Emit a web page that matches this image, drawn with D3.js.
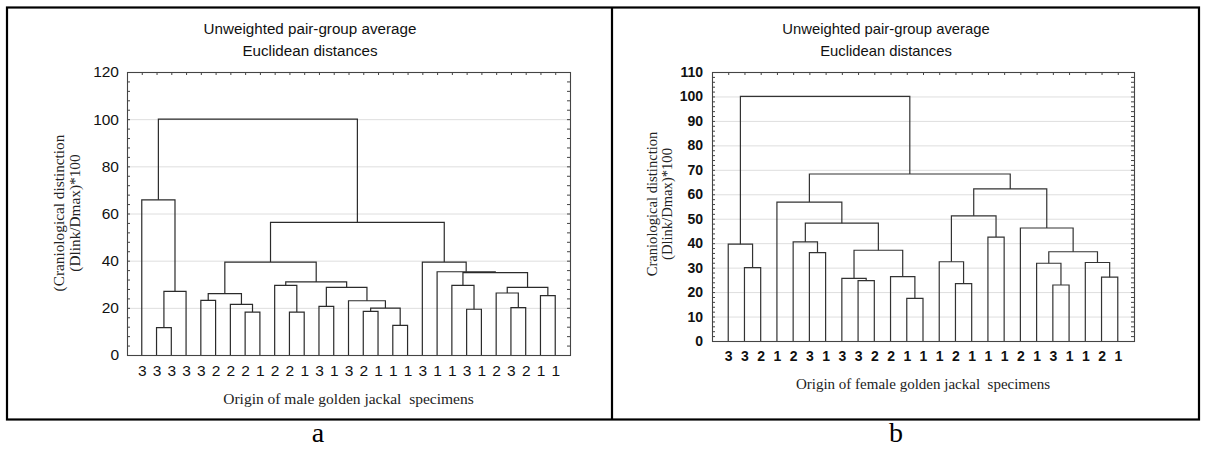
<!DOCTYPE html>
<html><head><meta charset="utf-8">
<script src="https://cdn.jsdelivr.net/npm/d3@7"></script>
<style>body{margin:0;background:#fff} svg{display:block} text{white-space:pre}</style>
</head><body>
<svg id="c" width="1208" height="450"></svg>
<script>
// ---------- data ----------
const maleLabels = ["3","3","3","3","3","2","2","2","1","2","2","1","3","1","3","2","1","1","1","3","1","1","3","1","2","3","2","1","1"];
// linkage: [childA, childB, height]; ids < n are leaves, id n+k is merge k
const maleMerges = [
 [1,2,11.6],[29,3,27.0],[0,30,65.8],[4,5,23.2],[7,8,18.2],[6,33,21.5],[32,34,26.0],
 [10,11,18.2],[9,36,29.5],[12,13,20.6],[15,16,18.5],[17,18,12.6],[39,40,19.9],[14,41,23.0],
 [38,42,28.7],[37,43,31.0],[35,44,39.4],[22,23,19.4],[21,46,29.5],[25,26,20.1],[24,48,26.3],
 [27,28,25.2],[49,50,28.7],[47,51,34.9],[20,52,35.3],[19,53,39.4],[45,54,56.2],[31,55,100]
];
const maleTicks = [0,20,40,60,80,100,120];

const femaleLabels = ["3","3","2","1","2","3","1","3","3","2","2","1","1","1","2","1","1","1","2","1","3","1","1","2","1"];
const femaleMerges = [
 [1,2,30.0],[0,25,39.6],[5,6,36.1],[4,27,40.5],[8,9,24.7],[7,29,25.6],[11,12,17.4],[10,31,26.3],
 [30,32,37.1],[28,33,48.2],[3,34,56.8],[14,15,23.5],[13,36,32.4],[16,17,42.5],[37,38,51.2],
 [20,21,22.9],[19,40,31.8],[23,24,26.1],[22,42,32.1],[41,43,36.5],[18,44,46.2],[39,45,62.2],
 [35,46,68.3],[26,47,100]
];
const femaleTicks = [0,10,20,30,40,50,60,70,80,90,100,110];

const chartTitle = ["Unweighted pair-group average","Euclidean distances"];
const maleYTitle = ["(Craniological distinction","(Dlink/Dmax)*100"];
const femaleYTitle = ["Craniological distinction","(Dlink/Dmax)*100"];
const maleXTitle = "Origin of male golden jackal  specimens";
const femaleXTitle = "Origin of female golden jackal  specimens";
const panelLetters = ["a","b"];

// ---------- drawing ----------
const svg = d3.select("#c");
const SANS = "'Liberation Sans', Arial, sans-serif";
const SERIF = "'Liberation Serif', 'Times New Roman', serif";

// outer frame
const frame = svg.append("g").attr("stroke","#000").attr("stroke-width",2.2).attr("fill","none");
frame.append("rect").attr("x",7).attr("y",7.5).attr("width",1192).attr("height",412);
frame.append("line").attr("x1",612).attr("x2",612).attr("y1",7.5).attr("y2",419.5);

function drawPanel(o){
  const g = svg.append("g");
  const n = o.labels.length;
  const x = d3.scaleLinear().domain([-1, n]).range([o.x0, o.x1]);
  const y = d3.scaleLinear().domain([0, o.ymax]).range([o.y1, o.y0]);

  // gridlines
  g.append("g").selectAll("line").data(o.ticks.filter(t=>t>0 && t<o.ymax)).join("line")
    .attr("x1",o.x0).attr("x2",o.x1).attr("y1",d=>y(d)+0.5).attr("y2",d=>y(d)+0.5)
    .attr("stroke","#dedede").attr("stroke-width",1);

  // dendrogram
  const nodeX = [], nodeH = [];
  for(let i=0;i<n;i++){ nodeX[i]=x(i); nodeH[i]=0; }
  const paths = [];
  o.merges.forEach((m,k)=>{
    const [a,b,h] = m;
    const id = n+k;
    nodeX[id] = (nodeX[a]+nodeX[b])/2; nodeH[id]=h;
    paths.push(`M${nodeX[a]},${y(nodeH[a])}V${y(h)}H${nodeX[b]}V${y(nodeH[b])}`);
  });
  g.append("g").selectAll("path").data(paths).join("path")
    .attr("d",d=>d).attr("fill","none").attr("stroke",o.lineColor).attr("stroke-width",1.2);

  // frame + ticks
  const ax = g.append("g").attr("color","#444");
  const minor = d3.range(0, o.ymax+0.001, o.minor);
  ax.append("g").attr("transform",`translate(${o.x0},0)`)
    .call(d3.axisRight(y).tickValues(minor).tickSize(3).tickFormat("")).call(s=>s.select(".domain").remove());
  ax.append("g").attr("transform",`translate(${o.x1},0)`)
    .call(d3.axisLeft(y).tickValues(minor).tickSize(3).tickFormat("")).call(s=>s.select(".domain").remove());
  ax.append("g").attr("transform",`translate(0,${o.y0})`)
    .call(d3.axisBottom(x).tickValues(d3.range(n)).tickSize(3).tickFormat("")).call(s=>s.select(".domain").remove());
  g.append("rect").attr("x",o.x0+0.5).attr("y",o.y0+0.5).attr("width",o.x1-o.x0).attr("height",o.y1-o.y0)
    .attr("fill","none").attr("stroke","#444").attr("stroke-width",1.1);

  // y tick labels
  const yl = g.append("g").attr("transform",`translate(${o.x0},0)`)
    .call(d3.axisLeft(y).tickValues(o.ticks).tickSize(0).tickPadding(o.yPad));
  yl.select(".domain").remove();
  yl.selectAll("text").attr("font-family",SANS).attr("font-size",o.tickSize)
    .attr("font-weight",o.weight).attr("fill","#111");

  // leaf labels
  const xl = g.append("g").attr("transform",`translate(0,${o.y1})`)
    .call(d3.axisBottom(x).tickValues(d3.range(n)).tickSize(0).tickPadding(o.xPad).tickFormat(i=>o.labels[i]));
  xl.select(".domain").remove();
  xl.selectAll("text").attr("font-family",SANS).attr("font-size",o.leafSize)
    .attr("font-weight",o.weight).attr("fill","#111");

  // titles
  g.selectAll(".ttl").data(chartTitle).join("text").attr("class","ttl")
    .attr("x",o.titleX).attr("y",(d,i)=>34+i*22).attr("text-anchor","middle")
    .attr("font-family",SANS).attr("font-size",o.titleSize).attr("fill","#111").text(d=>d);

  // y title
  o.yTitle.forEach((t,i)=>{
    g.append("text").attr("transform",`translate(${o.yTitleX[i]},${o.yTitleY}) rotate(-90)`)
      .attr("text-anchor","middle").attr("dominant-baseline","central")
      .attr("font-family",SERIF).attr("font-size",o.yTitleSize).attr("fill","#222").text(t);
  });

  // x title
  g.append("text").attr("x",(o.x0+o.x1)/2).attr("y",o.xTitleY).attr("text-anchor","middle")
    .attr("font-family",SERIF).attr("font-size",o.xTitleSize).attr("fill","#222").text(o.xTitle);

  // panel letter
  g.append("text").attr("x",o.letterX).attr("y",442).attr("text-anchor","middle")
    .attr("font-family",SERIF).attr("font-size",28).attr("fill","#000").text(o.letter);
}

drawPanel({labels:maleLabels, merges:maleMerges, ticks:maleTicks, ymax:120, minor:4,
  x0:127, x1:570, y0:72, y1:355, lineColor:"#2b2b2b", weight:"normal",
  tickSize:15.5, leafSize:15.5, yPad:8, xPad:10, titleX:310, titleSize:15.2,
  yTitle:maleYTitle, yTitleX:[58,74], yTitleY:213, yTitleSize:15.3,
  xTitle:maleXTitle, xTitleY:404, xTitleSize:15.5, letter:panelLetters[0], letterX:318});

drawPanel({labels:femaleLabels, merges:femaleMerges, ticks:femaleTicks, ymax:110, minor:2,
  x0:712, x1:1134, y0:72, y1:341, lineColor:"#333", weight:"bold",
  tickSize:14, leafSize:14, yPad:9, xPad:10, titleX:886, titleSize:14.8,
  yTitle:femaleYTitle, yTitleX:[652,667], yTitleY:204, yTitleSize:14.6,
  xTitle:femaleXTitle, xTitleY:389, xTitleSize:15, letter:panelLetters[1], letterX:896});
</script>
</body></html>
